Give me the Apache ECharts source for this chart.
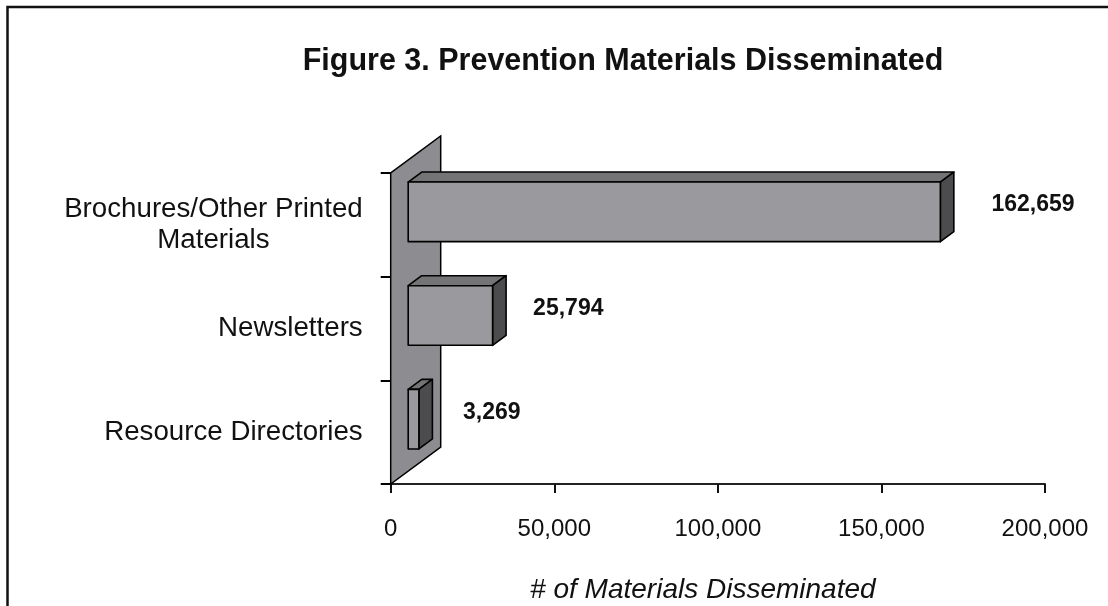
<!DOCTYPE html>
<html>
<head>
<meta charset="utf-8">
<title>Figure 3. Prevention Materials Disseminated</title>
<script src="https://cdn.jsdelivr.net/npm/echarts@6/dist/echarts.min.js"></script>
<style>
  html, body { margin: 0; padding: 0; background: #ffffff; }
  #chart { width: 1108px; height: 606px; }
</style>
</head>
<body>
<div id="chart"></div>
<script>
// Material types (top to bottom) and counts disseminated
const categories = ['Brochures/Other Printed\nMaterials', 'Newsletters', 'Resource Directories'];
const counts = [162659, 25794, 3269];
const xTicks = [0, 50000, 100000, 150000, 200000];

const FONT = '"Liberation Sans", Arial, Helvetica, sans-serif';
const fmt = n => n.toLocaleString('en-US');

// Oblique depth of the 3D look: full wall depth, bar front inset and bar depth
const WALL_DX = 50, WALL_DY = -37;
const FRONT_DX = 17.5, FRONT_DY = -13;
const BAR_DX = 13.5, BAR_DY = -10;

const chart = echarts.init(document.getElementById('chart'), null, { renderer: 'canvas' });

function renderWall(params, api) {
  const r = params.coordSys;
  const x = r.x, top = r.y, bot = r.y + r.height;
  return {
    type: 'polygon',
    shape: { points: [[x, bot], [x, top], [x + WALL_DX, top + WALL_DY], [x + WALL_DX, bot + WALL_DY]] },
    style: { fill: '#8d8d91', stroke: '#000', lineWidth: 1.5 }
  };
}

function renderBar(params, api) {
  const cat = api.value(1);
  const v = api.value(0);
  const s = api.coord([0, cat]);
  const e = api.coord([v, cat]);
  const band = api.size([0, 1])[1];
  const h = band * 0.575;
  const x0 = s[0] + FRONT_DX, x1 = e[0] + FRONT_DX;
  const yt = s[1] + FRONT_DY - h / 2, yb = yt + h;
  const edge = { stroke: '#000', lineWidth: 1.6, lineJoin: 'round' };
  // value labels sit on the receding plane, slightly stretched relative to the front scale
  const labelX = s[0] + (e[0] - s[0]) * 1.038 + 90;
  return {
    type: 'group',
    children: [
      { type: 'polygon', shape: { points: [[x0, yt], [x1, yt], [x1 + BAR_DX, yt + BAR_DY], [x0 + BAR_DX, yt + BAR_DY]] },
        style: Object.assign({ fill: '#747476' }, edge) },
      { type: 'polygon', shape: { points: [[x1, yt], [x1 + BAR_DX, yt + BAR_DY], [x1 + BAR_DX, yb + BAR_DY], [x1, yb]] },
        style: Object.assign({ fill: '#4c4c4e' }, edge) },
      { type: 'rect', shape: { x: x0, y: yt, width: x1 - x0, height: h },
        style: Object.assign({ fill: '#9a9a9e' }, edge) },
      { type: 'text', x: labelX, y: s[1] - 20,
        style: { text: fmt(v), font: 'bold 23px ' + FONT, fill: '#111', align: 'center', verticalAlign: 'middle' } }
    ]
  };
}

const option = {
  backgroundColor: '#ffffff',
  animation: false,
  grid: { left: 390.7, right: 63, top: 173, bottom: 122, containLabel: false, outerBoundsMode: 'none' },
  xAxis: {
    type: 'value',
    min: xTicks[0],
    max: xTicks[xTicks.length - 1],
    interval: 50000,
    splitLine: { show: false },
    axisLine: { show: true, lineStyle: { color: '#222', width: 2 } },
    axisTick: { show: true, inside: false, length: 9, lineStyle: { color: '#111', width: 2 } },
    axisLabel: { margin: 33, fontFamily: FONT, fontSize: 24, color: '#111', formatter: v => fmt(v) },
    name: '# of Materials Disseminated',
    nameLocation: 'middle',
    nameGap: 92,
    nameTextStyle: { fontFamily: FONT, fontSize: 28, fontStyle: 'italic', color: '#111', padding: [0, 30, 0, 0] }
  },
  yAxis: {
    type: 'category',
    inverse: true,
    data: categories,
    axisLine: { show: true, lineStyle: { color: '#000', width: 2 } },
    axisTick: { show: true, inside: false, length: 10, lineStyle: { color: '#000', width: 2 } },
    axisLabel: {
      margin: 28,
      formatter: t => t.split('\n').map(line => '{c|' + line + '}').join('\n'),
      rich: { c: { fontFamily: FONT, fontSize: 27.7, lineHeight: 31, color: '#111', align: 'center' } }
    }
  },
  graphic: [
    { type: 'rect', z: 100, shape: { x: 7.5, y: 7, width: 1300, height: 800 },
      style: { fill: 'none', stroke: '#111', lineWidth: 2.5 } },
    { type: 'text', z: 100, x: 623, y: 62,
      style: { text: 'Figure 3. Prevention Materials Disseminated', font: 'bold 30.5px ' + FONT, fill: '#111',
               align: 'center', verticalAlign: 'middle' } }
  ],
  series: [
    { type: 'custom', name: 'wall', renderItem: renderWall, data: [[0, 0]], z: 1, silent: true,
      encode: { x: 0, y: 1 } },
    { type: 'custom', name: 'counts', renderItem: renderBar, z: 3,
      data: counts.map((v, i) => [v, i]), encode: { x: 0, y: 1 } }
  ]
};

chart.setOption(option);
</script>
</body>
</html>
